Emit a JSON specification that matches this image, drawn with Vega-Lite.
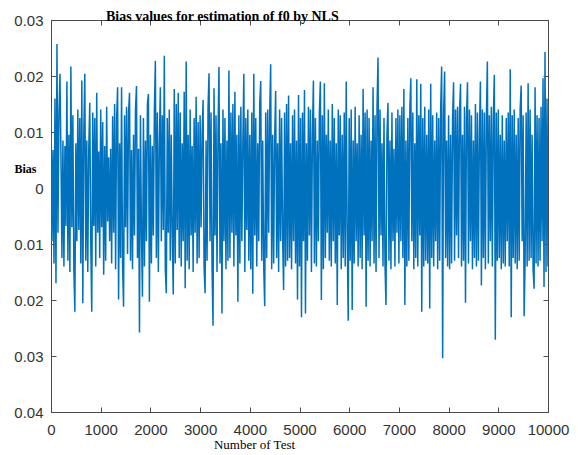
{
  "$schema": "https://vega.github.io/schema/vega-lite/v6.json",
  "width": 497,
  "height": 392,
  "autosize": {"type": "none"},
  "padding": {"left": 51, "top": 20, "right": 30, "bottom": 43},
  "background": "white",
  "config": {
    "view": {"stroke": "#4a4a4a", "strokeWidth": 1},
    "axis": {"grid": false, "domainColor": "#4a4a4a", "tickColor": "#4a4a4a", "labelColor": "#333333", "labelFont": "Liberation Sans", "labelFontSize": 15, "labelOverlap": false, "labelFlush": false}
  },
  "title": {"text": "Bias values for estimation of f0 by NLS", "font": "Liberation Serif", "fontWeight": "bold", "fontSize": 14, "anchor": "start", "frame": "group", "dx": 55, "offset": -22, "baseline": "alphabetic", "color": "#000000"},
  "layer": [
    {
      "data": {"values": [
{"x":0,"y":0.0140},{"x":20,"y":-0.0095},{"x":40,"y":0.0068},{"x":60,"y":-0.0135},{"x":80,"y":0.0160},{"x":100,"y":-0.0170},{"x":120,"y":0.0257},{"x":140,"y":-0.0080},{"x":160,"y":0.0130},{"x":180,"y":0.0204},
{"x":200,"y":0.0062},{"x":220,"y":-0.0125},{"x":240,"y":0.0085},{"x":260,"y":-0.0140},{"x":280,"y":0.0075},{"x":300,"y":-0.0068},{"x":320,"y":0.0190},{"x":340,"y":-0.0130},{"x":360,"y":0.0095},{"x":380,"y":-0.0150},
{"x":400,"y":0.0217},{"x":420,"y":-0.0070},{"x":440,"y":0.0130},{"x":460,"y":-0.0145},{"x":480,"y":-0.0221},{"x":500,"y":0.0080},{"x":520,"y":-0.0095},{"x":540,"y":0.0140},{"x":560,"y":-0.0075},{"x":580,"y":0.0125},
{"x":600,"y":-0.0135},{"x":620,"y":0.0192},{"x":640,"y":-0.0206},{"x":660,"y":0.0095},{"x":680,"y":0.0204},{"x":700,"y":-0.0130},{"x":720,"y":0.0085},{"x":740,"y":-0.0150},{"x":760,"y":0.0070},{"x":780,"y":0.0152},
{"x":800,"y":-0.0095},{"x":820,"y":-0.0221},{"x":840,"y":0.0135},{"x":860,"y":-0.0068},{"x":880,"y":0.0125},{"x":900,"y":-0.0140},{"x":920,"y":0.0170},{"x":940,"y":-0.0080},{"x":960,"y":0.0065},{"x":980,"y":-0.0125},
{"x":1000,"y":0.0140},{"x":1020,"y":-0.0070},{"x":1040,"y":0.0118},{"x":1060,"y":-0.0155},{"x":1080,"y":0.0075},{"x":1100,"y":-0.0130},{"x":1120,"y":0.0145},{"x":1140,"y":-0.0060},{"x":1160,"y":0.0055},{"x":1180,"y":-0.0095},
{"x":1200,"y":0.0070},{"x":1220,"y":-0.0135},{"x":1240,"y":0.0128},{"x":1260,"y":-0.0080},{"x":1280,"y":0.0150},{"x":1300,"y":-0.0145},{"x":1320,"y":0.0122},{"x":1340,"y":0.0180},{"x":1360,"y":-0.0199},{"x":1380,"y":0.0080},
{"x":1400,"y":-0.0125},{"x":1420,"y":0.0180},{"x":1440,"y":-0.0140},{"x":1460,"y":-0.0212},{"x":1480,"y":0.0130},{"x":1500,"y":-0.0070},{"x":1520,"y":0.0145},{"x":1540,"y":-0.0118},{"x":1560,"y":0.0135},{"x":1580,"y":0.0170},
{"x":1600,"y":-0.0130},{"x":1620,"y":0.0068},{"x":1640,"y":-0.0145},{"x":1660,"y":0.0095},{"x":1680,"y":-0.0085},{"x":1700,"y":0.0140},{"x":1720,"y":0.0182},{"x":1740,"y":-0.0125},{"x":1760,"y":0.0070},{"x":1780,"y":-0.0258},
{"x":1800,"y":0.0130},{"x":1820,"y":-0.0080},{"x":1840,"y":-0.0194},{"x":1860,"y":0.0125},{"x":1880,"y":-0.0140},{"x":1900,"y":0.0085},{"x":1920,"y":-0.0095},{"x":1940,"y":0.0150},{"x":1960,"y":0.0168},{"x":1980,"y":-0.0203},
{"x":2000,"y":0.0095},{"x":2020,"y":-0.0135},{"x":2040,"y":0.0075},{"x":2060,"y":-0.0085},{"x":2080,"y":0.0140},{"x":2100,"y":0.0227},{"x":2120,"y":-0.0125},{"x":2140,"y":0.0135},{"x":2160,"y":-0.0150},{"x":2180,"y":0.0080},
{"x":2200,"y":0.0180},{"x":2220,"y":-0.0095},{"x":2240,"y":0.0130},{"x":2260,"y":-0.0075},{"x":2280,"y":0.0236},{"x":2300,"y":-0.0145},{"x":2320,"y":-0.0188},{"x":2340,"y":0.0125},{"x":2360,"y":-0.0080},{"x":2380,"y":0.0140},
{"x":2400,"y":-0.0130},{"x":2420,"y":0.0095},{"x":2440,"y":-0.0085},{"x":2460,"y":-0.0190},{"x":2480,"y":0.0177},{"x":2500,"y":-0.0135},{"x":2520,"y":0.0150},{"x":2540,"y":-0.0075},{"x":2560,"y":0.0170},{"x":2580,"y":-0.0125},
{"x":2600,"y":0.0135},{"x":2620,"y":-0.0140},{"x":2640,"y":0.0080},{"x":2660,"y":-0.0095},{"x":2680,"y":0.0172},{"x":2700,"y":-0.0179},{"x":2720,"y":0.0226},{"x":2740,"y":-0.0130},{"x":2760,"y":0.0095},{"x":2780,"y":-0.0145},
{"x":2800,"y":0.0140},{"x":2820,"y":-0.0085},{"x":2840,"y":0.0075},{"x":2860,"y":-0.0150},{"x":2880,"y":0.0125},{"x":2900,"y":-0.0080},{"x":2920,"y":0.0163},{"x":2940,"y":-0.0135},{"x":2960,"y":0.0118},{"x":2980,"y":-0.0125},
{"x":3000,"y":0.0130},{"x":3020,"y":-0.0070},{"x":3040,"y":0.0095},{"x":3060,"y":0.0157},{"x":3080,"y":-0.0140},{"x":3100,"y":-0.0188},{"x":3120,"y":0.0085},{"x":3140,"y":-0.0130},{"x":3160,"y":0.0145},{"x":3180,"y":0.0205},
{"x":3200,"y":-0.0095},{"x":3220,"y":0.0135},{"x":3240,"y":-0.0140},{"x":3260,"y":-0.0246},{"x":3280,"y":0.0178},{"x":3300,"y":-0.0085},{"x":3320,"y":0.0130},{"x":3340,"y":-0.0150},{"x":3360,"y":0.0095},{"x":3380,"y":0.0216},
{"x":3400,"y":-0.0135},{"x":3420,"y":0.0080},{"x":3440,"y":-0.0224},{"x":3460,"y":0.0140},{"x":3480,"y":-0.0095},{"x":3500,"y":0.0125},{"x":3520,"y":-0.0145},{"x":3540,"y":0.0085},{"x":3560,"y":-0.0130},{"x":3580,"y":0.0210},
{"x":3600,"y":-0.0125},{"x":3620,"y":0.0135},{"x":3640,"y":-0.0080},{"x":3660,"y":0.0150},{"x":3680,"y":-0.0140},{"x":3700,"y":0.0172},{"x":3720,"y":-0.0085},{"x":3740,"y":0.0095},{"x":3760,"y":-0.0203},{"x":3780,"y":0.0130},
{"x":3800,"y":-0.0135},{"x":3820,"y":0.0145},{"x":3840,"y":-0.0095},{"x":3860,"y":0.0080},{"x":3880,"y":0.0204},{"x":3900,"y":-0.0150},{"x":3920,"y":0.0125},{"x":3940,"y":-0.0075},{"x":3960,"y":0.0140},{"x":3980,"y":-0.0130},
{"x":4000,"y":0.0095},{"x":4020,"y":-0.0145},{"x":4040,"y":0.0135},{"x":4060,"y":-0.0189},{"x":4080,"y":0.0204},{"x":4100,"y":-0.0085},{"x":4120,"y":0.0125},{"x":4140,"y":-0.0140},{"x":4160,"y":0.0080},{"x":4180,"y":-0.0095},
{"x":4200,"y":0.0150},{"x":4220,"y":0.0191},{"x":4240,"y":-0.0130},{"x":4260,"y":0.0085},{"x":4280,"y":-0.0140},{"x":4300,"y":-0.0211},{"x":4320,"y":0.0135},{"x":4340,"y":-0.0125},{"x":4360,"y":0.0140},{"x":4380,"y":-0.0080},
{"x":4400,"y":0.0130},{"x":4420,"y":0.0221},{"x":4440,"y":-0.0145},{"x":4460,"y":0.0095},{"x":4480,"y":-0.0135},{"x":4500,"y":0.0085},{"x":4520,"y":0.0173},{"x":4540,"y":-0.0125},{"x":4560,"y":0.0080},{"x":4580,"y":-0.0150},
{"x":4600,"y":0.0140},{"x":4620,"y":-0.0095},{"x":4640,"y":0.0125},{"x":4660,"y":-0.0085},{"x":4680,"y":-0.0182},{"x":4700,"y":0.0135},{"x":4720,"y":-0.0140},{"x":4740,"y":0.0150},{"x":4760,"y":-0.0130},{"x":4780,"y":0.0165},
{"x":4800,"y":-0.0125},{"x":4820,"y":0.0080},{"x":4840,"y":-0.0145},{"x":4860,"y":0.0130},{"x":4880,"y":-0.0095},{"x":4900,"y":0.0140},{"x":4920,"y":-0.0135},{"x":4940,"y":0.0085},{"x":4960,"y":-0.0199},{"x":4980,"y":0.0166},
{"x":5000,"y":-0.0140},{"x":5020,"y":0.0125},{"x":5040,"y":-0.0231},{"x":5060,"y":0.0135},{"x":5080,"y":-0.0095},{"x":5100,"y":0.0175},{"x":5120,"y":-0.0224},{"x":5140,"y":0.0080},{"x":5160,"y":-0.0130},{"x":5180,"y":0.0145},
{"x":5200,"y":-0.0085},{"x":5220,"y":0.0140},{"x":5240,"y":-0.0150},{"x":5260,"y":0.0095},{"x":5280,"y":0.0192},{"x":5300,"y":-0.0135},{"x":5320,"y":0.0125},{"x":5340,"y":-0.0140},{"x":5360,"y":0.0085},{"x":5380,"y":-0.0095},
{"x":5400,"y":0.0135},{"x":5420,"y":0.0190},{"x":5440,"y":-0.0200},{"x":5460,"y":0.0130},{"x":5480,"y":-0.0145},{"x":5500,"y":0.0187},{"x":5520,"y":-0.0125},{"x":5540,"y":0.0095},{"x":5560,"y":-0.0080},{"x":5580,"y":0.0140},
{"x":5600,"y":-0.0130},{"x":5620,"y":0.0085},{"x":5640,"y":-0.0140},{"x":5660,"y":0.0150},{"x":5680,"y":-0.0095},{"x":5700,"y":0.0125},{"x":5720,"y":-0.0135},{"x":5740,"y":0.0080},{"x":5760,"y":-0.0209},{"x":5780,"y":0.0140},
{"x":5800,"y":-0.0085},{"x":5820,"y":0.0130},{"x":5840,"y":-0.0145},{"x":5860,"y":0.0095},{"x":5880,"y":-0.0125},{"x":5900,"y":0.0135},{"x":5920,"y":-0.0140},{"x":5940,"y":0.0190},{"x":5960,"y":-0.0080},{"x":5980,"y":-0.0237},
{"x":6000,"y":0.0125},{"x":6020,"y":-0.0130},{"x":6040,"y":0.0140},{"x":6060,"y":-0.0218},{"x":6080,"y":0.0085},{"x":6100,"y":-0.0135},{"x":6120,"y":0.0145},{"x":6140,"y":-0.0095},{"x":6160,"y":0.0080},{"x":6180,"y":-0.0140},
{"x":6200,"y":0.0130},{"x":6220,"y":-0.0125},{"x":6240,"y":0.0095},{"x":6260,"y":-0.0145},{"x":6280,"y":0.0177},{"x":6300,"y":-0.0085},{"x":6320,"y":0.0135},{"x":6340,"y":-0.0212},{"x":6360,"y":0.0140},{"x":6380,"y":-0.0130},
{"x":6400,"y":0.0125},{"x":6420,"y":-0.0140},{"x":6440,"y":0.0085},{"x":6460,"y":-0.0095},{"x":6480,"y":0.0180},{"x":6500,"y":-0.0135},{"x":6520,"y":0.0130},{"x":6540,"y":-0.0150},{"x":6560,"y":0.0145},{"x":6580,"y":0.0233},
{"x":6600,"y":-0.0125},{"x":6620,"y":0.0140},{"x":6640,"y":-0.0085},{"x":6660,"y":0.0080},{"x":6680,"y":-0.0140},{"x":6700,"y":0.0125},{"x":6720,"y":-0.0135},{"x":6740,"y":-0.0209},{"x":6760,"y":0.0095},{"x":6780,"y":0.0152},
{"x":6800,"y":-0.0130},{"x":6820,"y":0.0085},{"x":6840,"y":-0.0145},{"x":6860,"y":0.0135},{"x":6880,"y":-0.0095},{"x":6900,"y":0.0070},{"x":6920,"y":-0.0140},{"x":6940,"y":0.0125},{"x":6960,"y":-0.0080},{"x":6980,"y":0.0140},
{"x":7000,"y":-0.0135},{"x":7020,"y":0.0130},{"x":7040,"y":-0.0095},{"x":7060,"y":0.0145},{"x":7080,"y":-0.0125},{"x":7100,"y":0.0177},{"x":7120,"y":-0.0209},{"x":7140,"y":0.0085},{"x":7160,"y":-0.0140},{"x":7180,"y":0.0125},
{"x":7200,"y":-0.0130},{"x":7220,"y":0.0140},{"x":7240,"y":0.0196},{"x":7260,"y":-0.0095},{"x":7280,"y":0.0135},{"x":7300,"y":-0.0145},{"x":7320,"y":0.0080},{"x":7340,"y":-0.0125},{"x":7360,"y":0.0194},{"x":7380,"y":-0.0140},
{"x":7400,"y":0.0130},{"x":7420,"y":-0.0085},{"x":7440,"y":0.0186},{"x":7460,"y":-0.0221},{"x":7480,"y":0.0125},{"x":7500,"y":-0.0140},{"x":7520,"y":0.0145},{"x":7540,"y":-0.0130},{"x":7560,"y":0.0095},{"x":7580,"y":-0.0135},
{"x":7600,"y":0.0140},{"x":7620,"y":-0.0215},{"x":7640,"y":0.0186},{"x":7660,"y":-0.0125},{"x":7680,"y":0.0130},{"x":7700,"y":-0.0140},{"x":7720,"y":0.0085},{"x":7740,"y":-0.0095},{"x":7760,"y":0.0135},{"x":7780,"y":-0.0145},
{"x":7800,"y":0.0125},{"x":7820,"y":-0.0130},{"x":7840,"y":0.0140},{"x":7860,"y":0.0217},{"x":7880,"y":-0.0304},{"x":7900,"y":0.0135},{"x":7920,"y":0.0208},{"x":7940,"y":-0.0125},{"x":7960,"y":0.0085},{"x":7980,"y":-0.0140},
{"x":8000,"y":0.0130},{"x":8020,"y":-0.0145},{"x":8040,"y":0.0095},{"x":8060,"y":-0.0135},{"x":8080,"y":0.0125},{"x":8100,"y":0.0189},{"x":8120,"y":-0.0130},{"x":8140,"y":0.0140},{"x":8160,"y":-0.0085},{"x":8180,"y":0.0145},
{"x":8200,"y":-0.0125},{"x":8220,"y":0.0135},{"x":8240,"y":0.0186},{"x":8260,"y":-0.0140},{"x":8280,"y":0.0095},{"x":8300,"y":-0.0130},{"x":8320,"y":0.0145},{"x":8340,"y":-0.0205},{"x":8360,"y":0.0125},{"x":8380,"y":0.0189},
{"x":8400,"y":-0.0135},{"x":8420,"y":0.0140},{"x":8440,"y":-0.0095},{"x":8460,"y":0.0130},{"x":8480,"y":-0.0145},{"x":8500,"y":0.0085},{"x":8520,"y":-0.0125},{"x":8540,"y":0.0150},{"x":8560,"y":-0.0140},{"x":8580,"y":0.0135},
{"x":8600,"y":-0.0130},{"x":8620,"y":0.0095},{"x":8640,"y":0.0190},{"x":8660,"y":-0.0174},{"x":8680,"y":0.0140},{"x":8700,"y":-0.0125},{"x":8720,"y":0.0135},{"x":8740,"y":-0.0145},{"x":8760,"y":0.0125},{"x":8780,"y":0.0226},
{"x":8800,"y":-0.0135},{"x":8820,"y":0.0130},{"x":8840,"y":-0.0095},{"x":8860,"y":0.0145},{"x":8880,"y":-0.0140},{"x":8900,"y":0.0125},{"x":8920,"y":0.0202},{"x":8940,"y":-0.0271},{"x":8960,"y":0.0135},{"x":8980,"y":-0.0130},
{"x":9000,"y":0.0140},{"x":9020,"y":-0.0125},{"x":9040,"y":0.0095},{"x":9060,"y":-0.0145},{"x":9080,"y":0.0130},{"x":9100,"y":-0.0135},{"x":9120,"y":0.0085},{"x":9140,"y":-0.0140},{"x":9160,"y":0.0125},{"x":9180,"y":-0.0095},
{"x":9200,"y":0.0135},{"x":9220,"y":-0.0140},{"x":9240,"y":0.0212},{"x":9260,"y":-0.0231},{"x":9280,"y":0.0130},{"x":9300,"y":-0.0125},{"x":9320,"y":0.0140},{"x":9340,"y":-0.0135},{"x":9360,"y":0.0095},{"x":9380,"y":-0.0145},
{"x":9400,"y":0.0125},{"x":9420,"y":-0.0130},{"x":9440,"y":0.0140},{"x":9460,"y":0.0183},{"x":9480,"y":-0.0095},{"x":9500,"y":0.0130},{"x":9520,"y":-0.0229},{"x":9540,"y":-0.0125},{"x":9560,"y":0.0135},{"x":9580,"y":-0.0140},
{"x":9600,"y":0.0187},{"x":9620,"y":-0.0130},{"x":9640,"y":0.0140},{"x":9660,"y":-0.0125},{"x":9680,"y":0.0095},{"x":9700,"y":-0.0145},{"x":9720,"y":-0.0180},{"x":9740,"y":0.0180},{"x":9760,"y":-0.0135},{"x":9780,"y":0.0130},
{"x":9800,"y":-0.0140},{"x":9820,"y":0.0125},{"x":9840,"y":-0.0130},{"x":9860,"y":0.0145},{"x":9880,"y":-0.0095},{"x":9900,"y":0.0196},{"x":9920,"y":-0.0177},{"x":9940,"y":0.0243},{"x":9960,"y":-0.0150},{"x":9980,"y":0.0160},
{"x":10000,"y":-0.0140}
      ]},
      "mark": {"type": "line", "color": "#0072BD", "strokeWidth": 1.5, "clip": true},
      "encoding": {
        "x": {"field": "x", "type": "quantitative", "scale": {"domain": [0, 10000], "nice": false, "zero": false},
          "axis": {"orient": "bottom", "values": [0,1000,2000,3000,4000,5000,6000,7000,8000,9000,10000], "format": "d", "tickSize": -5, "labelPadding": 15, "title": "Number of Test", "titleFont": "Liberation Serif", "titleFontSize": 13, "titleFontWeight": "normal", "titleColor": "#000000", "titleX": 203, "titleY": 32, "titleAlign": "center", "titleBaseline": "middle"}},
        "y": {"field": "y", "type": "quantitative", "scale": {"domain": [-0.04, 0.03], "nice": false, "zero": false},
          "axis": {"orient": "left", "values": [-0.04,-0.03,-0.02,-0.01,0,0.01,0.02,0.03], "labelExpr": "datum.value == 0 ? '0' : format(abs(datum.value), '.2f')", "tickSize": -5, "labelPadding": 13, "title": "Bias", "titleFont": "Liberation Serif", "titleFontSize": 12, "titleFontWeight": "bold", "titleColor": "#000000", "titleAngle": 0, "titleX": -37, "titleY": 148, "titleAlign": "left", "titleBaseline": "middle"}}
      }
    },
    {
      "data": {"values": [{"x": 0, "y": 0}]},
      "mark": {"type": "point", "opacity": 0},
      "encoding": {
        "x": {"field": "x", "type": "quantitative", "axis": {"orient": "top", "values": [0,1000,2000,3000,4000,5000,6000,7000,8000,9000,10000], "labels": false, "tickSize": -5, "title": null}},
        "y": {"field": "y", "type": "quantitative", "axis": {"orient": "right", "values": [-0.04,-0.03,-0.02,-0.01,0,0.01,0.02,0.03], "labels": false, "tickSize": -5, "title": null}}
      }
    }
  ],
  "resolve": {"axis": {"x": "independent", "y": "independent"}}
}
